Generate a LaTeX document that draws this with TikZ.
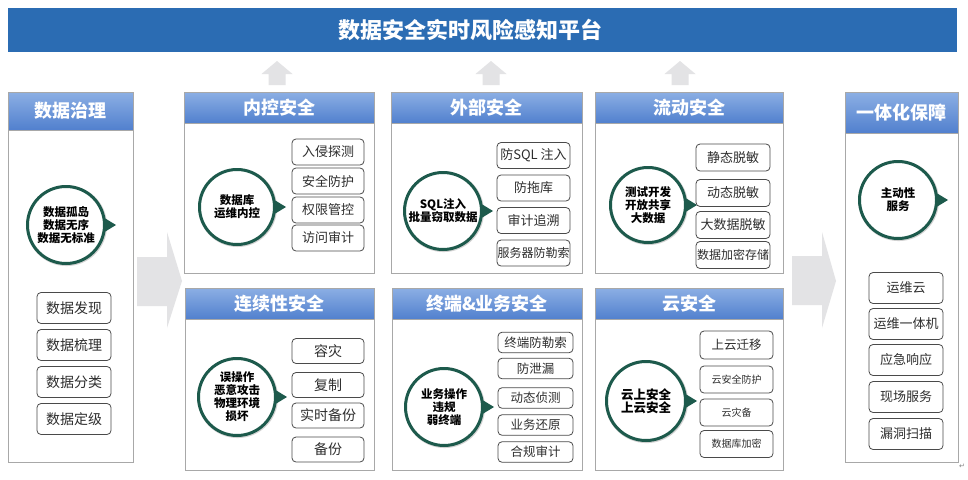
\documentclass[tikz,border=0pt]{standalone}
\usepackage{fontspec}
\setmainfont{Noto Sans CJK SC}
\newfontfamily\symfont{DejaVu Sans}
\usetikzlibrary{shadows}
\definecolor{bannerblue}{HTML}{2B6CB3}
\definecolor{hdtop}{HTML}{8CAFE4}
\definecolor{hdbot}{HTML}{5180CE}
\definecolor{ringcol}{HTML}{1D5A4C}
\definecolor{panelline}{HTML}{A8A8A8}
\definecolor{arrowgray}{HTML}{E3E3E5}
\definecolor{boxline}{HTML}{4A4A4A}
\definecolor{boxtext}{HTML}{2E2E2E}
\tikzset{
  panelbody/.style={draw=panelline, line width=0.9pt, fill=white},
  panelhead/.style={draw=panelline, line width=0.9pt, top color=hdtop, bottom color=hdbot},
  headtext/.style={text=white, font=\bfseries\fontsize{18}{20}\selectfont, inner sep=0pt},
  itembox/.style={draw=boxline, line width=0.8pt, rounded corners=4pt, fill=white, text=boxtext, inner sep=0pt, font=\fontsize{13}{15}\selectfont},
  ring/.style={circle, draw=ringcol, line width=3pt, fill=white, inner sep=0pt, align=center,
    font=\bfseries\fontsize{11.5}{13}\selectfont,
    drop shadow={shadow xshift=0.6pt, shadow yshift=-0.6pt, opacity=0.35, shadow scale=1.05}},
  bigarrow/.style={fill=arrowgray, draw=none},
}
\newcommand\mypanel[7]{%
  \draw[panelbody] (#2,#3) rectangle (#4,#5);
  \draw[panelhead] (#2,#3) rectangle (#4,#6);
  \node[headtext] (#1) at ({(#2+#4)/2},{(#3+#6)/2}) {#7};
}
\newcommand\myring[5]{%
  \node[ring, minimum size={2*#4-3}] (#1) at (#2,#3) {#5};
  \fill[ringcol] (#1.east) ++(-1.5,-7) -- ++(11.5,7) -- ++(-11.5,7) -- cycle;
}
\newcommand\uparrowshape[1]{%
  \fill[arrowgray] (#1,61) -- (#1+15.5,74) -- (#1+8.5,74) -- (#1+8.5,85) -- (#1-8.5,85) -- (#1-8.5,74) -- (#1-15.5,74) -- cycle;
}
\begin{document}
\begin{tikzpicture}[x=1pt,y=-1pt]
\useasboundingbox (0,0) rectangle (968,479);
\fill[white] (0,0) rectangle (968,479);

% banner
\fill[bannerblue] (8,8) rectangle (957,52);
\node[text=white, font=\bfseries\fontsize{22}{24}\selectfont, inner sep=0pt] (title) at (470,30) {数据安全实时风险感知平台};

% up arrows
\uparrowshape{277}
\uparrowshape{491}
\uparrowshape{680}

% big arrows
\fill[bigarrow] (137,257) -- (167,257) -- (167,232) -- (182,281) -- (167,328) -- (167,306) -- (137,306) -- cycle;
\fill[bigarrow] (792,256) -- (822,256) -- (822,232) -- (836,281) -- (822,328) -- (822,305) -- (792,305) -- cycle;

% left panel
\mypanel{hL}{8}{92}{133}{462}{130}{数据治理}
\myring{rL}{66}{225}{40}{数据孤岛\\数据无序\\数据无标准}
\foreach \y/\t [count=\i] in {308/数据发现, 345/数据梳理, 382/数据分类, 419/数据定级}
  \node[itembox, minimum width=74pt, minimum height=31pt, font=\fontsize{14}{16}\selectfont] (bL\i) at (74,\y) {\t};

% panel 1
\mypanel{h1}{184}{92}{374}{273}{123}{内控安全}
\myring{r1}{237}{207}{39}{数据库\\运维内控}
\foreach \y/\t [count=\i] in {152/入侵探测, 181/安全防护, 210/权限管控, 238/访问审计}
  \node[itembox, minimum width=72pt, minimum height=26pt] (b1\i) at (328,\y) {\t};

% panel 2
\mypanel{h2}{391}{92}{582}{273}{123}{外部安全}
\myring{r2}{443}{211}{40}{SQL注入\\批量窃取数据}
\foreach \y/\t [count=\i] in {155.5/防SQL 注入, 188/防拖库, 220.5/审计追溯, 253/{\fontsize{12}{14}\selectfont 服务器防勒索}}
  \node[itembox, minimum width=73pt, minimum height=26pt] (b2\i) at (533.5,\y) {\t};

% panel 3
\mypanel{h3}{595}{92}{783}{273}{123}{流动安全}
\myring{r3}{648}{205}{39}{测试开发\\开放共享\\大数据}
\foreach \y/\t [count=\i] in {157.5/静态脱敏, 193/动态脱敏, 225/大数据脱敏, 255/{\fontsize{12}{14}\selectfont 数据加密存储}}
  \node[itembox, minimum width=74pt, minimum height=27pt] (b3\i) at (733,\y) {\t};

% panel 4
\mypanel{h4}{185}{288}{374}{470}{319}{连续性安全}
\myring{r4}{237}{397}{40}{误操作\\恶意攻击\\物理环境\\损坏}
\foreach \y/\t [count=\i] in {351/容灾, 385/复制, 415.5/实时备份, 449.5/备份}
  \node[itembox, minimum width=72pt, minimum height=25pt, font=\fontsize{14}{16}\selectfont] (b4\i) at (328,\y) {\t};

% panel 5
\mypanel{h5}{392}{288}{582}{470}{319}{终端\&业务安全}
\myring{r5}{444}{407}{40}{业务操作\\违规\\弱终端}
\foreach \y/\t [count=\i] in {342.5/终端防勒索, 368.5/防泄漏, 398/动态侦测, 425/业务还原, 452/合规审计}
  \node[itembox, minimum width=75pt, minimum height=20.5pt, font=\fontsize{12.5}{14}\selectfont] (b5\i) at (535.5,\y) {\t};

% panel 6
\mypanel{h6}{595}{288}{783}{470}{319}{云安全}
\myring{r6}{646}{401}{41}{\fontsize{12.5}{14}\selectfont 云上安全\\\fontsize{12.5}{14}\selectfont 上云安全}
\node[itembox, minimum width=73pt, minimum height=28pt, font=\fontsize{12.5}{14}\selectfont] (b61) at (736.5,345) {上云迁移};
\foreach \y/\t [count=\i from 2] in {379.5/云安全防护, 412.5/云灾备, 444/数据库加密}
  \node[itembox, minimum width=73pt, minimum height=27pt, font=\fontsize{10}{12}\selectfont] (b6\i) at (736.5,\y) {\t};

% right panel
\mypanel{hR}{845}{92}{958}{462}{133}{一体化保障}
\myring{rR}{898}{200}{40}{主动性\\服务}
\foreach \y/\t [count=\i] in {288/运维云, 324/运维一体机, 360/应急响应, 397/现场服务, 434/漏洞扫描}
  \node[itembox, minimum width=74pt, minimum height=31pt] (bR\i) at (906,\y) {\t};

\node[text=gray, font=\symfont\fontsize{7}{8}\selectfont, inner sep=0pt] (ret) at (962,466) {↵};
\end{tikzpicture}
\end{document}
